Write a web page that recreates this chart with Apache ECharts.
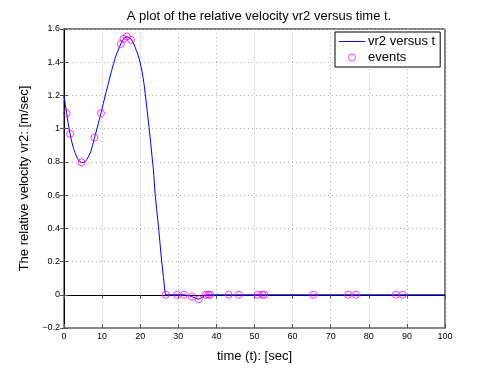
<!DOCTYPE html>
<html>
<head>
<meta charset="utf-8">
<script src="https://cdn.jsdelivr.net/npm/echarts@6/dist/echarts.min.js"></script>
<style>
  html, body { margin: 0; padding: 0; background: #fff; }
  #chart { width: 491px; height: 369px; }
</style>
</head>
<body>
<div id="chart"></div>
<script>
// curve vr2(t)
var curveT = [0, 0.35, 0.7, 1.1, 1.6, 2.0, 2.5, 3.0, 3.5, 4.0, 4.6, 5.0, 5.5, 6.0, 6.5, 7.0, 7.5, 8.0, 8.5, 9.0, 9.7, 10.3, 11, 11.5, 12, 12.5, 13, 13.5, 14, 14.5, 14.9, 15.3, 15.6, 16.0, 16.5, 17.0, 17.6, 18.2, 18.6, 19, 19.4, 19.8, 20.2, 20.6, 21.0, 21.3, 21.8, 22.3, 22.7, 23.2, 23.5, 23.9, 24.3, 24.8, 25.2, 25.6, 26.1, 26.6, 29.7, 31.5, 32.5, 33.5, 34.5, 35.4, 36.3, 37.2, 100];
var curveV = [1.2, 1.145, 1.093, 1.03, 0.969, 0.925, 0.88, 0.85, 0.822, 0.805, 0.795, 0.795, 0.8, 0.815, 0.835, 0.86, 0.9, 0.946, 0.985, 1.03, 1.093, 1.15, 1.215, 1.26, 1.305, 1.35, 1.39, 1.43, 1.46, 1.49, 1.51, 1.527, 1.54, 1.55, 1.555, 1.552, 1.54, 1.515, 1.495, 1.47, 1.445, 1.414, 1.375, 1.33, 1.27, 1.214, 1.115, 1.013, 0.925, 0.812, 0.745, 0.611, 0.52, 0.41, 0.31, 0.21, 0.105, 0.0, 0.0, 0.0, -0.004, -0.011, -0.02, -0.027, -0.014, 0.0, 0.0];

// event points
var eventT = [0.7, 1.6, 4.6, 8.0, 9.7, 14.9, 15.6, 16.5, 17.6, 26.7, 29.7, 31.5, 33.5, 35.4, 37.2, 37.9, 38.3, 43.2, 45.9, 50.8, 52.0, 52.6, 65.4, 74.6, 76.6, 87.1, 88.9];
var eventV = [1.093, 0.969, 0.798, 0.946, 1.093, 1.51, 1.54, 1.555, 1.535, 0, 0, 0, -0.011, -0.027, 0, 0, 0, 0, 0, 0, 0, 0, 0, 0, 0, 0, 0];

var xTicks = [0, 10, 20, 30, 40, 50, 60, 70, 80, 90, 100];
var yTicks = [-0.2, 0, 0.2, 0.4, 0.6, 0.8, 1, 1.2, 1.4, 1.6];

var chart = echarts.init(document.getElementById('chart'));

var font = 'Liberation Sans, Arial, Helvetica, sans-serif';
var gridLine = { show: true, lineStyle: { color: '#b0b0b0', type: [1, 3], width: 1 } };

var option = {
  backgroundColor: '#fff',
  animation: false,
  color: ['#0000ff', '#ff00ff'],
  title: {
    text: 'A plot of the relative velocity vr2 versus time t.',
    left: 254, top: 5, textAlign: 'center',
    textStyle: { fontFamily: font, fontSize: 13, fontWeight: 'normal', color: '#000' }
  },
  legend: {
    orient: 'vertical',
    left: 335, top: 32,
    padding: [3, 5, 3, 4],
    itemGap: 3,
    itemWidth: 26, itemHeight: 7,
    backgroundColor: '#fff',
    borderColor: '#000', borderWidth: 1, borderRadius: 0,
    textStyle: { fontFamily: font, fontSize: 13, color: '#000', padding: [0, 0, 0, -2] },
    data: [
      { name: 'vr2 versus t', icon: 'none' },
      { name: 'events', icon: 'circle', itemStyle: { color: 'transparent', borderColor: '#ff00ff', borderWidth: 1 } }
    ]
  },
  // legend sample line for the curve
  graphic: [{
    type: 'line', z: 100,
    shape: { x1: 339, y1: 41.5, x2: 365, y2: 41.5 },
    style: { stroke: '#0000ff', lineWidth: 1 }
  }],
  grid: { left: 64, right: 46, top: 29, bottom: 41, show: true, borderColor: '#000', borderWidth: 1, backgroundColor: '#fff' },
  xAxis: [{
    type: 'value', min: 0, max: 100, interval: 10,
    name: 'time (t): [sec]', nameLocation: 'middle', nameGap: 22,
    nameTextStyle: { fontFamily: font, fontSize: 13, color: '#000' },
    axisLine: { show: true, onZero: false, lineStyle: { color: '#888', width: 2 } },
    axisTick: { show: true, inside: true, length: 4, lineStyle: { color: '#555' } },
    axisLabel: { fontFamily: font, fontSize: 9, color: '#000', margin: 4,
      customValues: xTicks },
    splitLine: gridLine
  }, {
    type: 'value', min: 0, max: 100, interval: 10, position: 'top',
    axisLine: { show: true, lineStyle: { color: '#000', width: 1 } },
    axisTick: { show: true, inside: true, length: 4, lineStyle: { color: '#555' } },
    axisLabel: { show: false }, splitLine: { show: false }
  }],
  yAxis: [{
    type: 'value', min: -0.2, max: 1.6, interval: 0.2,
    name: 'The relative velocity vr2: [m/sec]', nameLocation: 'middle', nameGap: 24,
    nameTextStyle: { fontFamily: font, fontSize: 13, color: '#000' },
    axisLine: { show: true, onZero: false, lineStyle: { color: '#888', width: 2 } },
    axisTick: { show: true, inside: true, length: 4, lineStyle: { color: '#555' } },
    axisLabel: { fontFamily: font, fontSize: 9, color: '#000', margin: 4,
      formatter: function (v) {
        var r = Math.round(v * 10) / 10;
        for (var i = 0; i < yTicks.length; i++) if (Math.abs(yTicks[i] - r) < 1e-6) return String(yTicks[i]).replace('-', '\u2212');
        return '';
      } },
    splitLine: gridLine
  }, {
    type: 'value', min: -0.2, max: 1.6, interval: 0.2, position: 'right',
    axisLine: { show: true, lineStyle: { color: '#000', width: 1 } },
    axisTick: { show: true, inside: true, length: 4, lineStyle: { color: '#555' } },
    axisLabel: { show: false }, splitLine: { show: false }
  }],
  series: [{
    name: 'vr2 versus t',
    type: 'line',
    showSymbol: false,
    lineStyle: { color: '#0000ff', width: 1 },
    itemStyle: { color: '#0000ff' },
    data: curveT.map(function (t, i) { return [t, curveV[i]]; }),
    z: 3
  }, {
    name: 'events',
    type: 'scatter',
    symbol: 'circle', symbolSize: 7,
    itemStyle: { color: 'transparent', borderColor: '#ff00ff', borderWidth: 1 },
    data: eventT.map(function (t, i) { return [t, eventV[i]]; }),
    z: 4
  }]
};

chart.setOption(option);
</script>
</body>
</html>
